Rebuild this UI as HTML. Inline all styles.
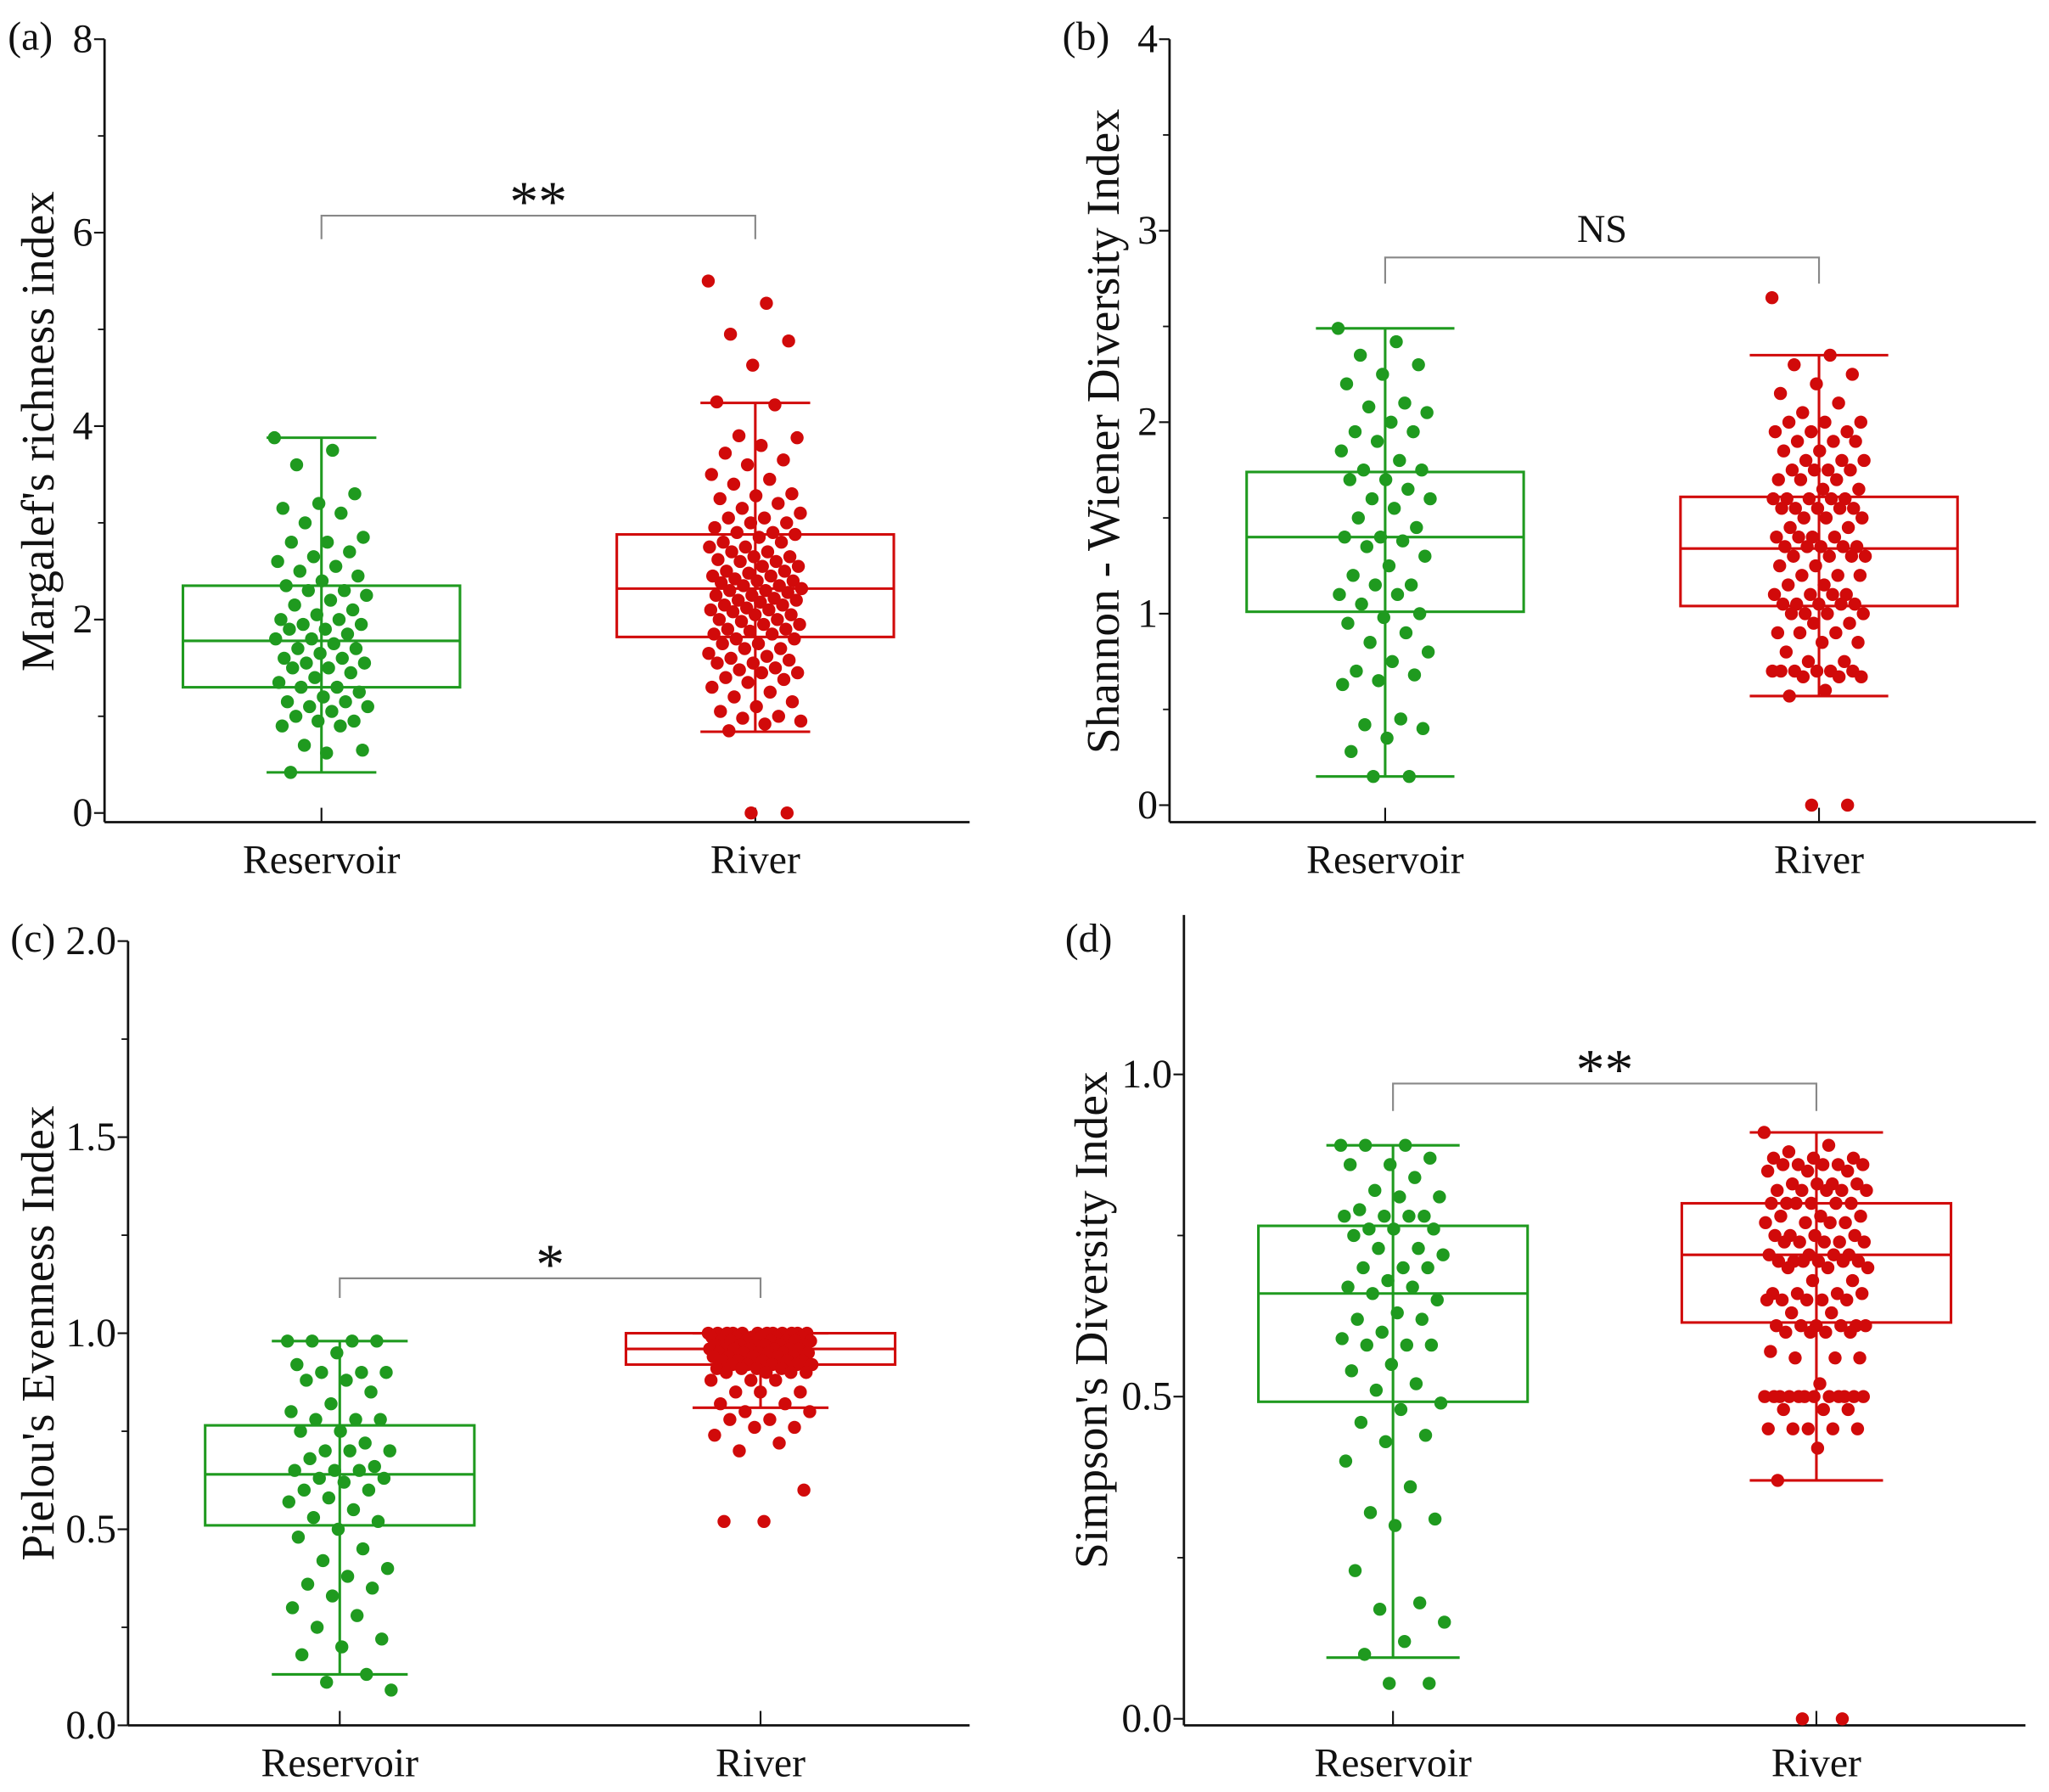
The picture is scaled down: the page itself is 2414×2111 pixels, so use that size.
<!DOCTYPE html>
<html><head><meta charset="utf-8"><style>
html,body{margin:0;padding:0;background:#fff;}
svg{display:block;}
text{font-family:"Liberation Serif",serif;fill:#111;}
</style></head><body>
<svg id="fig" width="2414" height="2111" viewBox="0 0 1568 1371" preserveAspectRatio="none" xmlns="http://www.w3.org/2000/svg"></svg>
<script>
const categories = ["Reservoir","River"];
// Panel (a) Margalef
const aResBox = [0.42,1.3,1.78,2.35,3.88];
const aRivBox = [0.84,1.82,2.32,2.88,4.24];
const aResPts = [3.88,3.75,3.6,3.3,3.2,3.15,3.1,3.0,2.85,2.8,2.8,2.7,2.65,2.6,2.55,2.5,2.45,2.4,2.35,2.3,2.3,2.25,2.2,2.15,2.1,2.05,2.0,2.0,1.95,1.95,1.9,1.9,1.85,1.8,1.8,1.75,1.7,1.7,1.65,1.6,1.6,1.55,1.55,1.5,1.5,1.45,1.4,1.35,1.3,1.3,1.25,1.2,1.15,1.15,1.1,1.1,1.05,1.0,0.95,0.95,0.9,0.9,0.7,0.65,0.62,0.42];
const aRivPts = [5.5,5.27,4.95,4.88,4.63,4.25,4.22,3.9,3.88,3.8,3.72,3.65,3.6,3.5,3.45,3.4,3.3,3.28,3.25,3.2,3.15,3.1,3.05,3.05,3.0,3.0,2.95,2.9,2.9,2.88,2.85,2.8,2.8,2.75,2.75,2.7,2.7,2.65,2.65,2.62,2.6,2.6,2.55,2.55,2.5,2.5,2.48,2.45,2.45,2.42,2.4,2.4,2.38,2.35,2.35,2.32,2.3,2.3,2.28,2.25,2.25,2.22,2.2,2.2,2.18,2.15,2.15,2.12,2.1,2.1,2.08,2.05,2.05,2.0,2.0,1.98,1.95,1.95,1.9,1.9,1.88,1.85,1.85,1.8,1.8,1.75,1.75,1.7,1.7,1.65,1.62,1.6,1.58,1.55,1.55,1.5,1.48,1.45,1.45,1.4,1.38,1.35,1.3,1.25,1.2,1.15,1.1,1.05,1.0,0.98,0.95,0.92,0.85,0,0];
const aTicks = ["0","2","4","6","8"];
// Panel (b) Shannon
const bResBox = [0.15,1.01,1.40,1.74,2.49];
const bRivBox = [0.57,1.04,1.34,1.61,2.35];
const bResPts = [2.49,2.42,2.35,2.3,2.25,2.2,2.1,2.08,2.05,2.0,1.95,1.95,1.9,1.85,1.8,1.75,1.75,1.7,1.7,1.65,1.6,1.6,1.55,1.5,1.45,1.4,1.4,1.38,1.35,1.3,1.25,1.2,1.15,1.15,1.1,1.1,1.05,1.0,0.98,0.95,0.9,0.85,0.8,0.75,0.7,0.68,0.65,0.63,0.45,0.42,0.4,0.35,0.28,0.15,0.15];
const bRivPts = [2.65,2.35,2.3,2.25,2.2,2.15,2.1,2.05,2.0,2.0,2.0,1.95,1.95,1.95,1.9,1.9,1.9,1.85,1.85,1.8,1.8,1.8,1.75,1.75,1.75,1.75,1.7,1.7,1.7,1.65,1.65,1.6,1.6,1.6,1.6,1.6,1.55,1.55,1.55,1.55,1.55,1.5,1.5,1.5,1.45,1.45,1.4,1.4,1.4,1.4,1.35,1.35,1.35,1.35,1.35,1.3,1.3,1.3,1.3,1.25,1.25,1.2,1.2,1.2,1.15,1.15,1.1,1.1,1.1,1.1,1.05,1.05,1.05,1.05,1.05,1.0,1.0,1.0,1.0,0.95,0.95,0.9,0.9,0.9,0.85,0.85,0.8,0.75,0.75,0.7,0.7,0.7,0.7,0.7,0.7,0.67,0.67,0.67,0.6,0.57,0,0];
const bTicks = ["0","1","2","3","4"];
// Panel (c) Pielou
const cResBox = [0.13,0.51,0.64,0.765,0.98];
const cRivBox = [0.81,0.92,0.96,1.0,1.0];
const cResPts = [0.98,0.98,0.98,0.98,0.95,0.92,0.9,0.9,0.9,0.88,0.88,0.85,0.82,0.8,0.78,0.78,0.78,0.75,0.75,0.72,0.7,0.7,0.7,0.68,0.66,0.65,0.65,0.65,0.63,0.63,0.62,0.6,0.6,0.58,0.57,0.55,0.53,0.52,0.5,0.48,0.45,0.42,0.4,0.38,0.36,0.35,0.33,0.3,0.28,0.25,0.22,0.2,0.18,0.13,0.11,0.09];
const cRivPts = [1.0,1.0,1.0,1.0,1.0,1.0,1.0,1.0,1.0,1.0,1.0,1.0,0.99,0.99,0.99,0.99,0.99,0.99,0.98,0.98,0.98,0.98,0.98,0.98,0.98,0.97,0.97,0.97,0.97,0.97,0.97,0.96,0.96,0.96,0.96,0.96,0.96,0.96,0.95,0.95,0.95,0.95,0.95,0.95,0.94,0.94,0.94,0.94,0.94,0.93,0.93,0.93,0.93,0.93,0.92,0.92,0.92,0.92,0.92,0.91,0.91,0.91,0.91,0.9,0.9,0.9,0.9,0.88,0.88,0.88,0.85,0.85,0.85,0.82,0.82,0.8,0.8,0.78,0.78,0.76,0.76,0.74,0.72,0.7,0.6,0.52,0.52];
const cTicks = ["0.0","0.5","1.0","1.5","2.0"];
// Panel (d) Simpson
const dResBox = [0.095,0.492,0.66,0.765,0.89];
const dRivBox = [0.37,0.615,0.72,0.80,0.91];
const dResPts = [0.89,0.89,0.89,0.87,0.86,0.86,0.84,0.82,0.81,0.81,0.79,0.78,0.78,0.78,0.78,0.76,0.76,0.76,0.75,0.73,0.73,0.72,0.7,0.7,0.7,0.68,0.67,0.67,0.66,0.65,0.63,0.62,0.62,0.6,0.59,0.58,0.58,0.58,0.55,0.54,0.52,0.51,0.49,0.48,0.46,0.44,0.43,0.4,0.36,0.32,0.31,0.3,0.23,0.18,0.17,0.15,0.12,0.1,0.055,0.055];
const dRivPts = [0.91,0.89,0.88,0.87,0.87,0.87,0.86,0.86,0.86,0.86,0.86,0.85,0.85,0.85,0.83,0.83,0.83,0.83,0.82,0.82,0.82,0.82,0.82,0.8,0.8,0.8,0.8,0.8,0.8,0.78,0.78,0.78,0.77,0.77,0.77,0.77,0.75,0.75,0.75,0.75,0.74,0.74,0.74,0.74,0.74,0.72,0.72,0.72,0.72,0.71,0.71,0.71,0.71,0.71,0.71,0.7,0.7,0.7,0.68,0.68,0.66,0.66,0.66,0.66,0.65,0.65,0.65,0.65,0.65,0.63,0.63,0.61,0.61,0.61,0.61,0.61,0.61,0.6,0.6,0.6,0.6,0.57,0.56,0.56,0.56,0.52,0.5,0.5,0.5,0.5,0.5,0.5,0.5,0.5,0.5,0.5,0.5,0.5,0.48,0.48,0.48,0.45,0.45,0.45,0.45,0.45,0.42,0.37,0,0];
const dTicks = ["0.0","0.5","1.0"];

const NS="http://www.w3.org/2000/svg";
const svg=document.getElementById('fig');
const GREEN="#1f9a1f", RED="#d10a0a";
function mk(tag,attrs,parent){const e=document.createElementNS(NS,tag);for(const k in attrs)e.setAttribute(k,attrs[k]);(parent||svg).appendChild(e);return e;}

function panel(cfg){
  const g=mk('g',{});
  
  
  const y=v=>cfg.y0+(v-cfg.vmin)*(cfg.yTop-cfg.y0)/(cfg.vmax-cfg.vmin);
  const ya=mk('line',{x1:cfg.ax,y1:cfg.axTop,x2:cfg.ax,y2:cfg.axY,stroke:'#111','stroke-width':1.8},g);
  
  
  const xa=mk('line',{x1:cfg.ax,y1:cfg.axY,x2:cfg.axR,y2:cfg.axY,stroke:'#111','stroke-width':1.8},g);
  
  
  cfg.ticks.forEach((t,i)=>{
    const v=parseFloat(t);const yy=y(v);
    mk('line',{x1:cfg.ax-8,y1:yy,x2:cfg.ax,y2:yy,stroke:'#111','stroke-width':1.4},g);
    const tx=mk('text',{x:cfg.ax-9,y:yy+10,'text-anchor':'end','font-size':31},g);
    tx.textContent=t;
    
    
  });
  for(let v=cfg.vmin+cfg.minor; v<cfg.vmaxMinor; v+=cfg.minor*2){
    mk('line',{x1:cfg.ax-5,y1:y(v),x2:cfg.ax,y2:y(v),stroke:'#111','stroke-width':1.2},g);
  }
  const tt=mk('text',{transform:`translate(${cfg.titleX},${cfg.titleY}) rotate(-90)`,'text-anchor':'middle','font-size':36},g);
  tt.textContent=cfg.title;
  
  
  const pl=mk('text',{x:cfg.plX,y:cfg.plY,'font-size':31},g);
  pl.textContent=cfg.label;
  
  
  const groups=[{cx:cfg.cx[0],box:cfg.resBox,pts:cfg.resPts,col:GREEN},{cx:cfg.cx[1],box:cfg.rivBox,pts:cfg.rivPts,col:RED}];
  groups.forEach((gr,k)=>{
    mk('line',{x1:gr.cx,y1:cfg.axY,x2:gr.cx,y2:cfg.axY-11,stroke:'#111','stroke-width':1.4},g);
    const cl=mk('text',{x:gr.cx,y:cfg.axY+39,'text-anchor':'middle','font-size':31},g);
    cl.textContent=categories[k];
    
    
    const b=gr.box, hw=cfg.boxHW, cw=cfg.capHW;
    const bg=mk('g',{fill:'none',stroke:gr.col,'stroke-width':2},g);
    
    
    mk('line',{x1:gr.cx,y1:y(b[0]),x2:gr.cx,y2:y(b[4])},bg);
    mk('line',{x1:gr.cx-cw,y1:y(b[0]),x2:gr.cx+cw,y2:y(b[0])},bg);
    mk('line',{x1:gr.cx-cw,y1:y(b[4]),x2:gr.cx+cw,y2:y(b[4])},bg);
    mk('rect',{x:gr.cx-hw,y:y(b[3]),width:hw*2,height:y(b[1])-y(b[3]),fill:'none'},bg);
    mk('line',{x1:gr.cx-hw,y1:y(b[2]),x2:gr.cx+hw,y2:y(b[2])},bg);
    const pg=mk('g',{fill:gr.col},g);
    gr.pts.forEach((v,i)=>{
      const f=((i*0.6180339)%1)-0.5;
      const c=mk('circle',{cx:gr.cx+f*cfg.spread,cy:y(v),r:5},pg);
      
      
    });
  });
  const br=mk('path',{d:`M${cfg.cx[0]},${cfg.brY+cfg.brD} V${cfg.brY} H${cfg.cx[1]} V${cfg.brY+cfg.brD}`,fill:'none',stroke:'#888','stroke-width':1.4},g);
  
  
  const st=mk('text',{x:(cfg.cx[0]+cfg.cx[1])/2,y:cfg.brY-(cfg.sig==='NS'?12:-4),'text-anchor':'middle','font-size':cfg.sig==='NS'?30:44},g);
  st.textContent=cfg.sig;
  
  
}

panel({id:'a',label:'(a)',plX:6,plY:38,title:"Margalef's richness index",titleX:41,titleY:330,
  ax:80,axTop:30,axY:629,axR:742,vmin:0,vmax:8,y0:622,yTop:30,minor:1,vmaxMinor:8,ticks:aTicks,
  cx:[246,578],boxHW:106,capHW:42,spread:72,resBox:aResBox,rivBox:aRivBox,resPts:aResPts,rivPts:aRivPts,
  brY:165,brD:18,sig:'**'});
panel({id:'b',label:'(b)',plX:813,plY:38,title:"Shannon - Wiener Diversity Index",titleX:856,titleY:330,
  ax:895,axTop:30,axY:629,axR:1558,vmin:0,vmax:4,y0:616,yTop:30,minor:0.5,vmaxMinor:4,ticks:bTicks,
  cx:[1060,1392],boxHW:106,capHW:53,spread:72,resBox:bResBox,rivBox:bRivBox,resPts:bResPts,rivPts:bRivPts,
  brY:197,brD:20,sig:'NS'});
panel({id:'c',label:'(c)',plX:8,plY:728,title:"Pielou's Evenness Index",titleX:41,titleY:1020,
  ax:98,axTop:720,axY:1320,axR:742,vmin:0,vmax:2,y0:1320,yTop:720,minor:0.25,vmaxMinor:2,ticks:cTicks,
  cx:[260,582],boxHW:103,capHW:52,spread:80,resBox:cResBox,rivBox:cRivBox,resPts:cResPts,rivPts:cRivPts,
  brY:978,brD:15,sig:'*'});
panel({id:'d',label:'(d)',plX:815,plY:728,title:"Simpson's Diversity Index",titleX:847,titleY:1010,
  ax:906,axTop:700,axY:1320,axR:1550,vmin:0,vmax:1,y0:1315,yTop:822,minor:0.25,vmaxMinor:1.25,ticks:dTicks,
  cx:[1066,1390],boxHW:103,capHW:51,spread:80,resBox:dResBox,rivBox:dRivBox,resPts:dResPts,rivPts:dRivPts,
  brY:829,brD:21,sig:'**'});
</script>
</body></html>
